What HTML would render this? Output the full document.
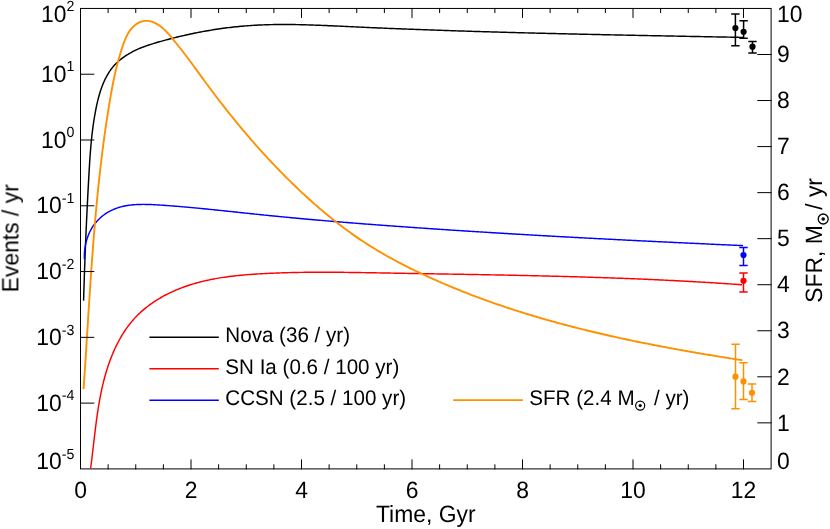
<!DOCTYPE html>
<html><head><meta charset="utf-8"><title>Event rates vs time</title>
<style>html,body{margin:0;padding:0;background:#fff;}body{width:830px;height:529px;overflow:hidden;font-family:"Liberation Sans",sans-serif;}svg{position:absolute;left:0;top:0;}</style>
</head><body>
<svg width="830" height="529" viewBox="0 0 830 529" style="display:block">
<rect width="830" height="529" fill="#fff"/>
<g font-family="'Liberation Sans', sans-serif" fill="#000" style="will-change:transform;text-rendering:geometricPrecision">
<path d="M83.59 300.61 L83.64 298.85 L83.69 297.09 L83.74 295.33 L83.79 293.58 L83.84 291.82 L83.90 290.06 L83.95 288.30 L84.01 286.54 L84.06 284.78 L84.12 283.02 L84.17 281.26 L84.23 279.50 L84.29 277.74 L84.35 275.98 L84.41 274.22 L84.47 272.46 L84.53 270.70 L84.59 268.94 L84.65 267.18 L84.72 265.42 L84.78 263.67 L84.85 261.91 L84.91 260.15 L84.98 258.39 L85.04 256.63 L85.11 254.87 L85.18 253.11 L85.25 251.35 L85.32 249.59 L85.39 247.83 L85.46 246.07 L85.53 244.31 L85.60 242.56 L85.68 240.80 L85.75 239.04 L85.83 237.28 L85.90 235.52 L85.98 233.76 L86.06 232.01 L86.13 230.25 L86.21 228.49 L86.29 226.73 L86.37 224.97 L86.45 223.22 L86.53 221.46 L86.61 219.70 L86.69 217.95 L86.78 216.19 L86.86 214.43 L86.94 212.68 L87.03 210.92 L87.12 209.16 L87.20 207.41 L87.29 205.65 L87.38 203.90 L87.46 202.14 L87.55 200.39 L87.64 198.63 L87.73 196.88 L87.82 195.12 L87.91 193.37 L88.01 191.62 L88.10 189.86 L88.19 188.11 L88.29 186.36 L88.38 184.60 L88.48 182.85 L88.57 181.10 L88.67 179.35 L88.77 177.59 L88.86 175.84 L88.96 174.09 L89.06 172.34 L89.16 170.59 L89.26 168.84 L89.37 167.09 L89.47 165.34 L89.58 163.59 L89.69 161.84 L89.81 160.09 L89.92 158.34 L90.04 156.59 L90.17 154.84 L90.30 153.09 L90.43 151.34 L90.57 149.59 L90.71 147.84 L90.86 146.09 L91.02 144.34 L91.18 142.59 L91.35 140.84 L91.53 139.09 L91.71 137.34 L91.90 135.58 L92.10 133.83 L92.30 132.08 L92.52 130.33 L92.74 128.57 L92.97 126.82 L93.22 125.06 L93.47 123.31 L93.73 121.55 L94.00 119.79 L94.29 118.04 L94.58 116.28 L94.89 114.52 L95.21 112.76 L95.54 111.00 L95.88 109.24 L96.23 107.48 L96.60 105.72 L96.99 103.96 L97.39 102.20 L97.81 100.45 L98.24 98.71 L98.70 96.98 L99.18 95.25 L99.68 93.54 L100.20 91.83 L100.74 90.14 L101.31 88.47 L101.91 86.81 L102.54 85.17 L103.19 83.55 L103.87 81.95 L104.59 80.37 L105.33 78.81 L106.11 77.28 L106.93 75.78 L107.77 74.30 L108.66 72.85 L109.58 71.43 L110.54 70.04 L111.54 68.69 L112.58 67.37 L113.66 66.09 L114.79 64.84 L115.95 63.63 L117.16 62.45 L118.40 61.31 L119.68 60.20 L121.00 59.13 L122.34 58.09 L123.73 57.09 L125.14 56.11 L126.58 55.17 L128.05 54.26 L129.54 53.38 L131.06 52.53 L132.60 51.70 L134.17 50.91 L135.75 50.15 L137.35 49.41 L138.97 48.70 L140.61 48.02 L142.26 47.36 L143.93 46.73 L145.60 46.11 L147.29 45.52 L148.99 44.95 L150.69 44.39 L152.40 43.85 L154.12 43.33 L155.84 42.81 L157.57 42.31 L159.29 41.81 L161.02 41.33 L162.75 40.84 L164.48 40.37 L166.20 39.90 L167.93 39.44 L169.66 38.98 L171.38 38.54 L173.11 38.09 L174.84 37.66 L176.57 37.23 L178.30 36.81 L180.02 36.40 L181.75 35.99 L183.48 35.59 L185.21 35.19 L186.94 34.81 L188.67 34.43 L190.40 34.05 L192.13 33.69 L193.86 33.33 L195.59 32.97 L197.32 32.63 L199.05 32.29 L200.78 31.96 L202.51 31.63 L204.24 31.32 L205.98 31.01 L207.71 30.70 L209.44 30.41 L211.18 30.12 L212.91 29.84 L214.64 29.56 L216.38 29.30 L218.11 29.04 L219.85 28.78 L221.58 28.54 L223.32 28.30 L225.06 28.07 L226.79 27.84 L228.53 27.63 L230.27 27.42 L232.01 27.22 L233.75 27.02 L235.49 26.84 L237.23 26.66 L238.97 26.48 L240.71 26.32 L242.45 26.16 L244.20 26.01 L245.94 25.87 L247.68 25.74 L249.43 25.61 L251.17 25.49 L252.92 25.38 L254.66 25.28 L256.41 25.18 L258.16 25.09 L259.91 25.01 L261.66 24.93 L263.40 24.86 L265.15 24.80 L266.90 24.74 L268.66 24.69 L270.41 24.65 L272.16 24.61 L273.91 24.58 L275.66 24.55 L277.42 24.53 L279.17 24.51 L280.93 24.50 L282.68 24.49 L284.44 24.49 L286.19 24.50 L287.95 24.51 L289.70 24.52 L291.46 24.54 L293.22 24.56 L294.97 24.59 L296.73 24.62 L298.49 24.65 L300.25 24.69 L302.00 24.73 L303.76 24.77 L305.52 24.82 L307.28 24.87 L309.04 24.92 L310.80 24.98 L312.56 25.04 L314.32 25.10 L316.08 25.17 L317.84 25.23 L319.60 25.30 L321.36 25.37 L323.12 25.44 L324.88 25.52 L326.64 25.59 L328.41 25.67 L330.17 25.75 L331.93 25.83 L333.69 25.91 L335.45 25.99 L337.21 26.07 L338.97 26.15 L340.74 26.24 L342.50 26.32 L344.26 26.40 L346.02 26.49 L347.78 26.57 L349.54 26.65 L351.30 26.73 L353.06 26.81 L354.83 26.90 L356.59 26.98 L358.35 27.06 L360.11 27.14 L361.87 27.22 L363.63 27.29 L365.39 27.37 L367.15 27.45 L368.91 27.53 L370.67 27.60 L372.43 27.68 L374.19 27.76 L375.95 27.83 L377.71 27.91 L379.47 27.98 L381.23 28.06 L382.99 28.13 L384.75 28.20 L386.51 28.28 L388.27 28.35 L390.03 28.42 L391.79 28.49 L393.55 28.56 L395.31 28.63 L397.07 28.70 L398.83 28.77 L400.59 28.84 L402.35 28.91 L404.11 28.98 L405.87 29.05 L407.63 29.12 L409.39 29.18 L411.15 29.25 L412.91 29.32 L414.66 29.38 L416.42 29.45 L418.18 29.51 L419.94 29.58 L421.70 29.64 L423.46 29.71 L425.22 29.77 L426.98 29.84 L428.74 29.90 L430.49 29.96 L432.25 30.02 L434.01 30.09 L435.77 30.15 L437.53 30.21 L439.29 30.27 L441.05 30.33 L442.80 30.39 L444.56 30.45 L446.32 30.51 L448.08 30.57 L449.84 30.63 L451.60 30.68 L453.35 30.74 L455.11 30.80 L456.87 30.86 L458.63 30.91 L460.39 30.97 L462.14 31.03 L463.90 31.08 L465.66 31.14 L467.42 31.19 L469.18 31.25 L470.93 31.30 L472.69 31.36 L474.45 31.41 L476.21 31.47 L477.97 31.52 L479.72 31.57 L481.48 31.62 L483.24 31.68 L485.00 31.73 L486.75 31.78 L488.51 31.83 L490.27 31.88 L492.03 31.93 L493.79 31.98 L495.54 32.04 L497.30 32.09 L499.06 32.14 L500.82 32.18 L502.57 32.23 L504.33 32.28 L506.09 32.33 L507.85 32.38 L509.60 32.43 L511.36 32.48 L513.12 32.52 L514.88 32.57 L516.63 32.62 L518.39 32.67 L520.15 32.71 L521.91 32.76 L523.66 32.80 L525.42 32.85 L527.18 32.90 L528.94 32.94 L530.69 32.99 L532.45 33.03 L534.21 33.08 L535.97 33.12 L537.72 33.16 L539.48 33.21 L541.24 33.25 L543.00 33.30 L544.75 33.34 L546.51 33.38 L548.27 33.42 L550.03 33.47 L551.78 33.51 L553.54 33.55 L555.30 33.59 L557.06 33.64 L558.81 33.68 L560.57 33.72 L562.33 33.76 L564.09 33.80 L565.84 33.84 L567.60 33.88 L569.36 33.92 L571.12 33.96 L572.87 34.00 L574.63 34.04 L576.39 34.08 L578.15 34.12 L579.90 34.16 L581.66 34.20 L583.42 34.24 L585.18 34.28 L586.93 34.32 L588.69 34.36 L590.45 34.40 L592.21 34.43 L593.97 34.47 L595.72 34.51 L597.48 34.55 L599.24 34.59 L601.00 34.62 L602.76 34.66 L604.51 34.70 L606.27 34.74 L608.03 34.77 L609.79 34.81 L611.55 34.85 L613.30 34.88 L615.06 34.92 L616.82 34.96 L618.58 34.99 L620.34 35.03 L622.09 35.07 L623.85 35.10 L625.61 35.14 L627.37 35.17 L629.13 35.21 L630.89 35.24 L632.64 35.28 L634.40 35.31 L636.16 35.35 L637.92 35.39 L639.68 35.42 L641.44 35.46 L643.20 35.49 L644.96 35.53 L646.71 35.56 L648.47 35.60 L650.23 35.63 L651.99 35.66 L653.75 35.70 L655.51 35.73 L657.27 35.77 L659.03 35.80 L660.79 35.84 L662.55 35.87 L664.30 35.90 L666.06 35.94 L667.82 35.97 L669.58 36.01 L671.34 36.04 L673.10 36.07 L674.86 36.11 L676.62 36.14 L678.38 36.18 L680.14 36.21 L681.90 36.24 L683.66 36.28 L685.42 36.31 L687.18 36.35 L688.94 36.38 L690.70 36.41 L692.46 36.45 L694.22 36.48 L695.98 36.51 L697.74 36.55 L699.50 36.58 L701.26 36.61 L703.02 36.65 L704.78 36.68 L706.54 36.72 L708.30 36.75 L710.06 36.78 L711.83 36.82 L713.59 36.85 L715.35 36.88 L717.11 36.92 L718.87 36.95 L720.63 36.99 L722.39 37.02 L724.15 37.05 L725.91 37.09 L727.68 37.12 L729.44 37.15 L731.20 37.19 L732.96 37.22 L734.72 37.26 L736.48 37.29 L738.25 37.33 L740.01 37.36 L741.77 37.39 L743.53 37.43" fill="none" stroke="#000000" stroke-width="1.45" stroke-linejoin="round"/>
<path d="M90.61 468.22 L90.82 466.73 L91.02 465.24 L91.21 463.74 L91.41 462.24 L91.60 460.73 L91.79 459.22 L91.97 457.71 L92.16 456.19 L92.34 454.67 L92.52 453.15 L92.70 451.63 L92.88 450.10 L93.06 448.57 L93.24 447.03 L93.42 445.50 L93.59 443.96 L93.77 442.42 L93.95 440.88 L94.13 439.34 L94.31 437.79 L94.49 436.24 L94.68 434.69 L94.86 433.14 L95.05 431.59 L95.24 430.04 L95.43 428.49 L95.62 426.93 L95.82 425.38 L96.02 423.82 L96.22 422.27 L96.43 420.71 L96.64 419.15 L96.85 417.60 L97.07 416.04 L97.30 414.48 L97.52 412.93 L97.76 411.37 L98.00 409.81 L98.24 408.26 L98.49 406.70 L98.74 405.15 L99.01 403.60 L99.27 402.05 L99.55 400.50 L99.83 398.95 L100.12 397.40 L100.42 395.86 L100.72 394.31 L101.03 392.77 L101.35 391.23 L101.68 389.69 L102.02 388.16 L102.36 386.63 L102.72 385.10 L103.08 383.57 L103.45 382.04 L103.84 380.52 L104.23 379.00 L104.63 377.49 L105.05 375.98 L105.47 374.47 L105.90 372.96 L106.35 371.46 L106.81 369.96 L107.28 368.47 L107.76 366.98 L108.25 365.49 L108.76 364.01 L109.28 362.54 L109.81 361.06 L110.35 359.60 L110.91 358.13 L111.48 356.68 L112.06 355.22 L112.66 353.78 L113.28 352.34 L113.90 350.90 L114.54 349.48 L115.20 348.06 L115.87 346.65 L116.55 345.25 L117.25 343.85 L117.96 342.47 L118.69 341.09 L119.43 339.73 L120.19 338.37 L120.97 337.03 L121.76 335.70 L122.56 334.37 L123.38 333.06 L124.22 331.76 L125.07 330.48 L125.94 329.20 L126.83 327.95 L127.73 326.70 L128.65 325.47 L129.59 324.25 L130.54 323.05 L131.51 321.86 L132.50 320.69 L133.51 319.53 L134.53 318.39 L135.57 317.27 L136.63 316.16 L137.71 315.07 L138.80 314.00 L139.91 312.94 L141.04 311.90 L142.18 310.88 L143.34 309.88 L144.52 308.89 L145.71 307.91 L146.91 306.96 L148.13 306.02 L149.36 305.09 L150.61 304.19 L151.87 303.29 L153.14 302.42 L154.43 301.56 L155.72 300.71 L157.03 299.89 L158.36 299.07 L159.69 298.28 L161.03 297.50 L162.39 296.73 L163.75 295.98 L165.12 295.24 L166.51 294.52 L167.90 293.82 L169.30 293.13 L170.71 292.45 L172.13 291.79 L173.56 291.15 L174.99 290.52 L176.43 289.90 L177.88 289.30 L179.33 288.72 L180.79 288.14 L182.26 287.59 L183.73 287.04 L185.20 286.51 L186.68 286.00 L188.17 285.50 L189.66 285.01 L191.15 284.54 L192.64 284.08 L194.14 283.63 L195.65 283.20 L197.15 282.78 L198.66 282.37 L200.17 281.97 L201.68 281.59 L203.20 281.22 L204.72 280.86 L206.25 280.52 L207.77 280.18 L209.30 279.86 L210.83 279.54 L212.36 279.24 L213.90 278.95 L215.43 278.66 L216.97 278.39 L218.51 278.13 L220.06 277.87 L221.60 277.63 L223.15 277.39 L224.70 277.17 L226.25 276.95 L227.80 276.74 L229.35 276.54 L230.91 276.34 L232.46 276.16 L234.02 275.98 L235.58 275.80 L237.14 275.64 L238.70 275.48 L240.26 275.33 L241.82 275.18 L243.38 275.04 L244.94 274.90 L246.51 274.77 L248.07 274.65 L249.64 274.53 L251.20 274.41 L252.76 274.30 L254.33 274.20 L255.89 274.09 L257.46 273.99 L259.02 273.90 L260.59 273.81 L262.15 273.72 L263.72 273.63 L265.28 273.55 L266.84 273.47 L268.40 273.39 L269.97 273.32 L271.53 273.25 L273.09 273.18 L274.65 273.11 L276.22 273.05 L277.78 272.99 L279.34 272.93 L280.90 272.88 L282.46 272.82 L284.02 272.77 L285.58 272.73 L287.14 272.68 L288.70 272.64 L290.26 272.60 L291.82 272.56 L293.38 272.52 L294.94 272.49 L296.50 272.46 L298.05 272.43 L299.61 272.40 L301.17 272.38 L302.73 272.35 L304.29 272.33 L305.84 272.31 L307.40 272.30 L308.96 272.28 L310.52 272.27 L312.07 272.26 L313.63 272.25 L315.19 272.24 L316.74 272.23 L318.30 272.23 L319.86 272.22 L321.41 272.22 L322.97 272.22 L324.53 272.22 L326.08 272.23 L327.64 272.23 L329.20 272.24 L330.75 272.24 L332.31 272.25 L333.86 272.26 L335.42 272.27 L336.97 272.28 L338.53 272.30 L340.09 272.31 L341.64 272.32 L343.20 272.34 L344.75 272.36 L346.31 272.38 L347.86 272.39 L349.42 272.41 L350.97 272.43 L352.53 272.46 L354.08 272.48 L355.64 272.50 L357.19 272.52 L358.75 272.55 L360.30 272.57 L361.86 272.60 L363.41 272.62 L364.97 272.65 L366.52 272.67 L368.08 272.70 L369.64 272.73 L371.19 272.76 L372.75 272.78 L374.30 272.81 L375.86 272.84 L377.41 272.87 L378.97 272.89 L380.52 272.92 L382.08 272.95 L383.64 272.98 L385.19 273.01 L386.75 273.04 L388.30 273.06 L389.86 273.09 L391.42 273.12 L392.97 273.15 L394.53 273.17 L396.09 273.20 L397.64 273.23 L399.20 273.26 L400.76 273.28 L402.31 273.31 L403.87 273.34 L405.43 273.36 L406.99 273.39 L408.54 273.42 L410.10 273.44 L411.66 273.47 L413.21 273.50 L414.77 273.52 L416.33 273.55 L417.89 273.58 L419.45 273.60 L421.00 273.63 L422.56 273.65 L424.12 273.68 L425.68 273.71 L427.23 273.73 L428.79 273.76 L430.35 273.79 L431.91 273.81 L433.47 273.84 L435.03 273.86 L436.58 273.89 L438.14 273.92 L439.70 273.94 L441.26 273.97 L442.82 273.99 L444.38 274.02 L445.94 274.05 L447.50 274.07 L449.05 274.10 L450.61 274.13 L452.17 274.15 L453.73 274.18 L455.29 274.21 L456.85 274.23 L458.41 274.26 L459.97 274.29 L461.53 274.31 L463.09 274.34 L464.65 274.37 L466.21 274.39 L467.77 274.42 L469.32 274.45 L470.88 274.48 L472.44 274.50 L474.00 274.53 L475.56 274.56 L477.12 274.59 L478.68 274.62 L480.24 274.64 L481.80 274.67 L483.36 274.70 L484.92 274.73 L486.48 274.76 L488.04 274.79 L489.60 274.82 L491.16 274.85 L492.72 274.87 L494.28 274.90 L495.84 274.93 L497.40 274.96 L498.96 274.99 L500.52 275.02 L502.08 275.06 L503.64 275.09 L505.20 275.12 L506.76 275.15 L508.32 275.18 L509.88 275.21 L511.44 275.24 L513.00 275.27 L514.56 275.31 L516.12 275.34 L517.68 275.37 L519.24 275.40 L520.80 275.44 L522.36 275.47 L523.93 275.50 L525.49 275.54 L527.05 275.57 L528.61 275.61 L530.17 275.64 L531.73 275.68 L533.29 275.71 L534.85 275.75 L536.41 275.78 L537.97 275.82 L539.53 275.86 L541.09 275.89 L542.65 275.93 L544.21 275.97 L545.77 276.01 L547.33 276.04 L548.89 276.08 L550.45 276.12 L552.01 276.16 L553.57 276.20 L555.13 276.24 L556.69 276.28 L558.25 276.32 L559.81 276.36 L561.37 276.40 L562.93 276.44 L564.49 276.48 L566.05 276.53 L567.61 276.57 L569.17 276.61 L570.73 276.66 L572.29 276.70 L573.85 276.74 L575.41 276.79 L576.97 276.83 L578.53 276.88 L580.09 276.92 L581.65 276.97 L583.21 277.02 L584.77 277.06 L586.33 277.11 L587.89 277.16 L589.45 277.21 L591.01 277.26 L592.57 277.31 L594.13 277.36 L595.69 277.41 L597.25 277.46 L598.81 277.51 L600.37 277.56 L601.93 277.61 L603.49 277.66 L605.05 277.72 L606.60 277.77 L608.16 277.82 L609.72 277.88 L611.28 277.93 L612.84 277.99 L614.40 278.04 L615.96 278.10 L617.52 278.16 L619.08 278.21 L620.64 278.27 L622.19 278.33 L623.75 278.39 L625.31 278.45 L626.87 278.51 L628.43 278.57 L629.99 278.63 L631.55 278.69 L633.10 278.76 L634.66 278.82 L636.22 278.88 L637.78 278.95 L639.34 279.01 L640.89 279.08 L642.45 279.14 L644.01 279.21 L645.57 279.28 L647.13 279.34 L648.68 279.41 L650.24 279.48 L651.80 279.55 L653.36 279.62 L654.91 279.69 L656.47 279.76 L658.03 279.83 L659.59 279.91 L661.14 279.98 L662.70 280.05 L664.26 280.13 L665.81 280.20 L667.37 280.28 L668.93 280.36 L670.48 280.43 L672.04 280.51 L673.60 280.59 L675.15 280.67 L676.71 280.75 L678.26 280.83 L679.82 280.91 L681.38 280.99 L682.93 281.08 L684.49 281.16 L686.04 281.24 L687.60 281.33 L689.16 281.41 L690.71 281.50 L692.27 281.59 L693.82 281.67 L695.38 281.76 L696.93 281.85 L698.49 281.94 L700.04 282.03 L701.60 282.12 L703.15 282.22 L704.70 282.31 L706.26 282.40 L707.81 282.50 L709.37 282.59 L710.92 282.69 L712.48 282.79 L714.03 282.88 L715.58 282.98 L717.14 283.08 L718.69 283.18 L720.24 283.28 L721.80 283.38 L723.35 283.49 L724.90 283.59 L726.46 283.69 L728.01 283.80 L729.56 283.90 L731.11 284.01 L732.67 284.12 L734.22 284.23 L735.77 284.33 L737.32 284.44 L738.87 284.56 L740.43 284.67 L741.98 284.78" fill="none" stroke="#ff0000" stroke-width="1.45" stroke-linejoin="round"/>
<path d="M84.42 259.28 L84.38 257.88 L84.37 256.48 L84.39 255.08 L84.44 253.67 L84.53 252.26 L84.64 250.84 L84.79 249.43 L84.98 248.02 L85.20 246.62 L85.45 245.21 L85.73 243.82 L86.05 242.43 L86.41 241.05 L86.79 239.68 L87.21 238.32 L87.67 236.98 L88.16 235.65 L88.68 234.34 L89.24 233.05 L89.83 231.77 L90.46 230.52 L91.12 229.29 L91.82 228.08 L92.56 226.90 L93.32 225.74 L94.13 224.62 L94.97 223.52 L95.84 222.45 L96.74 221.41 L97.68 220.39 L98.64 219.41 L99.63 218.46 L100.65 217.54 L101.69 216.65 L102.75 215.79 L103.84 214.97 L104.95 214.18 L106.09 213.42 L107.24 212.69 L108.40 211.99 L109.59 211.33 L110.79 210.71 L112.00 210.12 L113.23 209.56 L114.47 209.04 L115.72 208.55 L116.99 208.10 L118.26 207.67 L119.54 207.28 L120.84 206.92 L122.14 206.58 L123.46 206.28 L124.78 206.00 L126.11 205.74 L127.45 205.51 L128.80 205.31 L130.16 205.13 L131.52 204.97 L132.89 204.83 L134.27 204.72 L135.65 204.62 L137.04 204.54 L138.43 204.48 L139.83 204.43 L141.23 204.41 L142.63 204.39 L144.04 204.39 L145.45 204.41 L146.87 204.43 L148.28 204.47 L149.70 204.51 L151.12 204.57 L152.54 204.63 L153.97 204.70 L155.39 204.78 L156.81 204.86 L158.23 204.95 L159.65 205.04 L161.07 205.14 L162.49 205.23 L163.91 205.33 L165.32 205.43 L166.73 205.53 L168.15 205.64 L169.56 205.74 L170.96 205.85 L172.37 205.96 L173.78 206.07 L175.18 206.18 L176.58 206.29 L177.99 206.40 L179.39 206.52 L180.78 206.64 L182.18 206.76 L183.58 206.88 L184.97 207.00 L186.37 207.12 L187.76 207.24 L189.15 207.37 L190.54 207.49 L191.93 207.62 L193.32 207.75 L194.71 207.88 L196.09 208.01 L197.48 208.14 L198.86 208.27 L200.25 208.40 L201.63 208.54 L203.01 208.67 L204.39 208.81 L205.77 208.95 L207.15 209.08 L208.53 209.22 L209.91 209.36 L211.28 209.50 L212.66 209.64 L214.04 209.78 L215.41 209.92 L216.79 210.06 L218.16 210.21 L219.54 210.35 L220.91 210.49 L222.28 210.64 L223.65 210.78 L225.03 210.93 L226.40 211.07 L227.77 211.21 L229.14 211.36 L230.51 211.51 L231.88 211.65 L233.25 211.80 L234.62 211.94 L235.99 212.09 L237.36 212.23 L238.73 212.38 L240.10 212.53 L241.47 212.67 L242.84 212.82 L244.21 212.96 L245.58 213.11 L246.95 213.25 L248.32 213.40 L249.69 213.54 L251.06 213.69 L252.43 213.83 L253.80 213.98 L255.17 214.12 L256.54 214.26 L257.91 214.40 L259.28 214.55 L260.66 214.69 L262.03 214.83 L263.40 214.97 L264.77 215.11 L266.15 215.25 L267.52 215.39 L268.89 215.52 L270.27 215.66 L271.64 215.80 L273.02 215.93 L274.39 216.07 L275.77 216.21 L277.14 216.34 L278.52 216.47 L279.90 216.61 L281.27 216.74 L282.65 216.87 L284.03 217.01 L285.41 217.14 L286.78 217.27 L288.16 217.40 L289.54 217.53 L290.92 217.66 L292.30 217.79 L293.68 217.92 L295.06 218.05 L296.44 218.18 L297.82 218.30 L299.20 218.43 L300.58 218.56 L301.96 218.68 L303.34 218.81 L304.72 218.93 L306.10 219.06 L307.49 219.18 L308.87 219.30 L310.25 219.43 L311.63 219.55 L313.02 219.67 L314.40 219.79 L315.78 219.92 L317.17 220.04 L318.55 220.16 L319.93 220.28 L321.32 220.40 L322.70 220.52 L324.09 220.64 L325.47 220.75 L326.86 220.87 L328.24 220.99 L329.63 221.11 L331.01 221.22 L332.40 221.34 L333.78 221.45 L335.17 221.57 L336.55 221.69 L337.94 221.80 L339.33 221.91 L340.71 222.03 L342.10 222.14 L343.49 222.25 L344.87 222.37 L346.26 222.48 L347.65 222.59 L349.03 222.70 L350.42 222.81 L351.81 222.93 L353.20 223.04 L354.58 223.15 L355.97 223.26 L357.36 223.36 L358.75 223.47 L360.14 223.58 L361.52 223.69 L362.91 223.80 L364.30 223.91 L365.69 224.01 L367.08 224.12 L368.47 224.23 L369.86 224.33 L371.24 224.44 L372.63 224.54 L374.02 224.65 L375.41 224.75 L376.80 224.86 L378.19 224.96 L379.58 225.07 L380.97 225.17 L382.36 225.27 L383.74 225.38 L385.13 225.48 L386.52 225.58 L387.91 225.69 L389.30 225.79 L390.69 225.89 L392.08 225.99 L393.47 226.09 L394.86 226.19 L396.25 226.29 L397.64 226.39 L399.03 226.49 L400.41 226.59 L401.80 226.69 L403.19 226.79 L404.58 226.89 L405.97 226.99 L407.36 227.09 L408.75 227.18 L410.14 227.28 L411.53 227.38 L412.92 227.48 L414.31 227.57 L415.69 227.67 L417.08 227.77 L418.47 227.86 L419.86 227.96 L421.25 228.06 L422.64 228.15 L424.03 228.25 L425.41 228.34 L426.80 228.44 L428.19 228.53 L429.58 228.63 L430.97 228.72 L432.35 228.81 L433.74 228.91 L435.13 229.00 L436.52 229.09 L437.91 229.19 L439.29 229.28 L440.68 229.37 L442.07 229.47 L443.46 229.56 L444.84 229.65 L446.23 229.74 L447.62 229.83 L449.01 229.93 L450.39 230.02 L451.78 230.11 L453.17 230.20 L454.55 230.29 L455.94 230.38 L457.33 230.47 L458.72 230.56 L460.10 230.65 L461.49 230.74 L462.88 230.83 L464.26 230.92 L465.65 231.01 L467.04 231.09 L468.42 231.18 L469.81 231.27 L471.20 231.36 L472.58 231.45 L473.97 231.53 L475.36 231.62 L476.74 231.71 L478.13 231.80 L479.51 231.88 L480.90 231.97 L482.29 232.06 L483.67 232.14 L485.06 232.23 L486.45 232.31 L487.83 232.40 L489.22 232.49 L490.60 232.57 L491.99 232.66 L493.38 232.74 L494.76 232.83 L496.15 232.91 L497.53 232.99 L498.92 233.08 L500.30 233.16 L501.69 233.25 L503.08 233.33 L504.46 233.41 L505.85 233.50 L507.23 233.58 L508.62 233.66 L510.00 233.75 L511.39 233.83 L512.78 233.91 L514.16 233.99 L515.55 234.07 L516.93 234.16 L518.32 234.24 L519.70 234.32 L521.09 234.40 L522.47 234.48 L523.86 234.56 L525.24 234.64 L526.63 234.72 L528.01 234.80 L529.40 234.88 L530.79 234.96 L532.17 235.04 L533.56 235.12 L534.94 235.20 L536.33 235.28 L537.71 235.36 L539.10 235.44 L540.48 235.52 L541.87 235.60 L543.25 235.68 L544.64 235.75 L546.02 235.83 L547.41 235.91 L548.79 235.99 L550.18 236.07 L551.56 236.14 L552.95 236.22 L554.34 236.30 L555.72 236.37 L557.11 236.45 L558.49 236.53 L559.88 236.60 L561.26 236.68 L562.65 236.76 L564.03 236.83 L565.42 236.91 L566.80 236.98 L568.19 237.06 L569.57 237.14 L570.96 237.21 L572.34 237.29 L573.73 237.36 L575.11 237.44 L576.50 237.51 L577.88 237.59 L579.27 237.66 L580.66 237.73 L582.04 237.81 L583.43 237.88 L584.81 237.96 L586.20 238.03 L587.58 238.10 L588.97 238.18 L590.35 238.25 L591.74 238.32 L593.12 238.40 L594.51 238.47 L595.90 238.54 L597.28 238.61 L598.67 238.69 L600.05 238.76 L601.44 238.83 L602.82 238.90 L604.21 238.97 L605.60 239.05 L606.98 239.12 L608.37 239.19 L609.75 239.26 L611.14 239.33 L612.52 239.40 L613.91 239.47 L615.30 239.54 L616.68 239.61 L618.07 239.69 L619.45 239.76 L620.84 239.83 L622.23 239.90 L623.61 239.97 L625.00 240.04 L626.39 240.11 L627.77 240.18 L629.16 240.24 L630.54 240.31 L631.93 240.38 L633.32 240.45 L634.70 240.52 L636.09 240.59 L637.48 240.66 L638.86 240.73 L640.25 240.80 L641.64 240.87 L643.02 240.93 L644.41 241.00 L645.80 241.07 L647.18 241.14 L648.57 241.21 L649.96 241.27 L651.34 241.34 L652.73 241.41 L654.12 241.48 L655.51 241.54 L656.89 241.61 L658.28 241.68 L659.67 241.75 L661.06 241.81 L662.44 241.88 L663.83 241.95 L665.22 242.01 L666.61 242.08 L667.99 242.15 L669.38 242.21 L670.77 242.28 L672.16 242.34 L673.54 242.41 L674.93 242.48 L676.32 242.54 L677.71 242.61 L679.10 242.67 L680.49 242.74 L681.87 242.80 L683.26 242.87 L684.65 242.94 L686.04 243.00 L687.43 243.07 L688.82 243.13 L690.21 243.20 L691.59 243.26 L692.98 243.33 L694.37 243.39 L695.76 243.45 L697.15 243.52 L698.54 243.58 L699.93 243.65 L701.32 243.71 L702.71 243.78 L704.10 243.84 L705.49 243.90 L706.88 243.97 L708.27 244.03 L709.66 244.10 L711.05 244.16 L712.44 244.22 L713.83 244.29 L715.22 244.35 L716.61 244.41 L718.00 244.48 L719.39 244.54 L720.78 244.60 L722.17 244.67 L723.56 244.73 L724.95 244.79 L726.34 244.85 L727.73 244.92 L729.12 244.98 L730.51 245.04 L731.90 245.10 L733.30 245.17 L734.69 245.23 L736.08 245.29 L737.47 245.35 L738.86 245.42 L740.25 245.48 L741.65 245.54 L743.04 245.60" fill="none" stroke="#0000ff" stroke-width="1.45" stroke-linejoin="round"/>
<path d="M83.54 389.00 L83.70 386.82 L83.85 384.64 L84.00 382.46 L84.15 380.28 L84.29 378.10 L84.44 375.92 L84.59 373.73 L84.73 371.55 L84.88 369.37 L85.02 367.18 L85.17 365.00 L85.31 362.81 L85.45 360.63 L85.59 358.44 L85.73 356.25 L85.87 354.07 L86.01 351.88 L86.15 349.69 L86.29 347.50 L86.43 345.31 L86.57 343.12 L86.71 340.94 L86.85 338.75 L86.99 336.56 L87.13 334.37 L87.26 332.17 L87.40 329.98 L87.54 327.79 L87.68 325.60 L87.82 323.41 L87.95 321.22 L88.09 319.02 L88.23 316.83 L88.37 314.64 L88.51 312.45 L88.65 310.25 L88.79 308.06 L88.93 305.87 L89.07 303.67 L89.21 301.48 L89.36 299.29 L89.50 297.09 L89.64 294.90 L89.79 292.70 L89.93 290.51 L90.08 288.31 L90.22 286.12 L90.37 283.93 L90.52 281.73 L90.67 279.54 L90.81 277.34 L90.97 275.15 L91.12 272.95 L91.27 270.76 L91.42 268.56 L91.58 266.37 L91.74 264.18 L91.89 261.98 L92.05 259.79 L92.21 257.59 L92.37 255.40 L92.54 253.20 L92.70 251.01 L92.87 248.82 L93.03 246.62 L93.20 244.43 L93.37 242.24 L93.55 240.04 L93.72 237.85 L93.90 235.66 L94.07 233.47 L94.25 231.27 L94.43 229.08 L94.62 226.89 L94.80 224.70 L94.99 222.51 L95.18 220.32 L95.37 218.13 L95.56 215.94 L95.76 213.75 L95.95 211.56 L96.15 209.37 L96.36 207.18 L96.56 204.99 L96.77 202.80 L96.97 200.62 L97.19 198.43 L97.40 196.24 L97.62 194.05 L97.84 191.87 L98.06 189.68 L98.28 187.50 L98.51 185.31 L98.74 183.13 L98.97 180.95 L99.20 178.76 L99.44 176.58 L99.68 174.40 L99.93 172.22 L100.17 170.04 L100.42 167.86 L100.68 165.68 L100.93 163.50 L101.19 161.32 L101.45 159.14 L101.72 156.96 L101.99 154.79 L102.26 152.61 L102.53 150.44 L102.81 148.26 L103.09 146.09 L103.38 143.91 L103.67 141.74 L103.96 139.57 L104.25 137.40 L104.55 135.23 L104.86 133.06 L105.16 130.89 L105.47 128.72 L105.79 126.55 L106.11 124.39 L106.43 122.22 L106.75 120.06 L107.08 117.89 L107.42 115.73 L107.76 113.57 L108.10 111.41 L108.44 109.25 L108.79 107.09 L109.15 104.93 L109.51 102.77 L109.87 100.61 L110.24 98.46 L110.61 96.30 L110.99 94.15 L111.37 92.00 L111.76 89.84 L112.16 87.69 L112.57 85.54 L112.99 83.39 L113.42 81.24 L113.86 79.09 L114.32 76.94 L114.79 74.79 L115.27 72.64 L115.76 70.49 L116.27 68.34 L116.80 66.19 L117.35 64.04 L117.91 61.89 L118.49 59.74 L119.10 57.59 L119.72 55.43 L120.37 53.28 L121.03 51.13 L121.72 48.97 L122.44 46.82 L123.18 44.67 L123.95 42.53 L124.77 40.41 L125.64 38.33 L126.58 36.30 L127.59 34.33 L128.69 32.44 L129.87 30.63 L131.16 28.93 L132.57 27.34 L134.09 25.87 L135.75 24.54 L137.52 23.38 L139.39 22.40 L141.35 21.63 L143.36 21.10 L145.42 20.83 L147.50 20.84 L149.58 21.12 L151.65 21.65 L153.69 22.39 L155.68 23.32 L157.61 24.40 L159.46 25.61 L161.23 26.92 L162.92 28.33 L164.55 29.83 L166.13 31.39 L167.66 33.01 L169.15 34.67 L170.61 36.37 L172.05 38.08 L173.47 39.80 L174.88 41.53 L176.28 43.26 L177.67 44.99 L179.05 46.73 L180.42 48.47 L181.77 50.22 L183.12 51.97 L184.46 53.72 L185.80 55.47 L187.12 57.23 L188.44 58.99 L189.76 60.75 L191.07 62.52 L192.37 64.28 L193.67 66.05 L194.97 67.82 L196.26 69.58 L197.55 71.35 L198.84 73.12 L200.13 74.89 L201.42 76.65 L202.71 78.42 L204.00 80.19 L205.29 81.95 L206.59 83.72 L207.89 85.48 L209.19 87.24 L210.49 88.99 L211.80 90.75 L213.11 92.50 L214.43 94.25 L215.75 96.00 L217.08 97.74 L218.41 99.48 L219.74 101.22 L221.08 102.96 L222.42 104.69 L223.77 106.42 L225.13 108.14 L226.48 109.87 L227.84 111.59 L229.21 113.31 L230.58 115.02 L231.96 116.73 L233.34 118.44 L234.72 120.14 L236.11 121.85 L237.50 123.54 L238.90 125.24 L240.30 126.93 L241.71 128.61 L243.12 130.30 L244.54 131.98 L245.96 133.65 L247.39 135.33 L248.82 136.99 L250.25 138.66 L251.69 140.32 L253.14 141.97 L254.59 143.63 L256.04 145.28 L257.50 146.92 L258.97 148.56 L260.43 150.20 L261.91 151.83 L263.39 153.45 L264.87 155.08 L266.36 156.70 L267.85 158.31 L269.35 159.92 L270.85 161.52 L272.36 163.12 L273.87 164.72 L275.39 166.31 L276.91 167.89 L278.43 169.48 L279.97 171.05 L281.50 172.62 L283.04 174.19 L284.59 175.75 L286.14 177.31 L287.70 178.86 L289.26 180.40 L290.83 181.94 L292.40 183.48 L293.98 185.01 L295.56 186.53 L297.14 188.05 L298.74 189.57 L300.33 191.07 L301.93 192.58 L303.54 194.07 L305.15 195.56 L306.77 197.05 L308.39 198.53 L310.02 200.00 L311.66 201.47 L313.30 202.93 L314.94 204.38 L316.59 205.82 L318.25 207.26 L319.91 208.70 L321.58 210.12 L323.25 211.54 L324.93 212.95 L326.62 214.35 L328.31 215.74 L330.01 217.13 L331.72 218.51 L333.43 219.88 L335.15 221.24 L336.87 222.59 L338.60 223.94 L340.34 225.27 L342.08 226.60 L343.83 227.92 L345.59 229.22 L347.36 230.52 L349.13 231.81 L350.91 233.09 L352.69 234.36 L354.49 235.62 L356.29 236.87 L358.09 238.12 L359.91 239.35 L361.73 240.56 L363.56 241.77 L365.40 242.97 L367.24 244.16 L369.09 245.34 L370.95 246.50 L372.82 247.66 L374.69 248.80 L376.57 249.94 L378.46 251.06 L380.35 252.18 L382.25 253.29 L384.16 254.38 L386.07 255.47 L387.99 256.55 L389.91 257.61 L391.84 258.67 L393.77 259.72 L395.71 260.77 L397.66 261.80 L399.61 262.82 L401.56 263.84 L403.52 264.85 L405.48 265.85 L407.45 266.84 L409.42 267.83 L411.39 268.80 L413.37 269.77 L415.35 270.73 L417.33 271.69 L419.32 272.64 L421.31 273.58 L423.30 274.51 L425.30 275.44 L427.30 276.36 L429.30 277.27 L431.30 278.18 L433.30 279.08 L435.31 279.98 L437.32 280.87 L439.34 281.75 L441.35 282.63 L443.37 283.50 L445.39 284.36 L447.41 285.22 L449.43 286.07 L451.46 286.92 L453.49 287.75 L455.52 288.59 L457.55 289.42 L459.59 290.24 L461.62 291.05 L463.66 291.86 L465.70 292.67 L467.75 293.46 L469.79 294.26 L471.84 295.04 L473.89 295.82 L475.94 296.60 L477.99 297.37 L480.05 298.13 L482.11 298.89 L484.17 299.64 L486.23 300.39 L488.29 301.13 L490.36 301.87 L492.42 302.60 L494.49 303.32 L496.56 304.04 L498.64 304.76 L500.71 305.47 L502.79 306.17 L504.87 306.87 L506.95 307.57 L509.03 308.26 L511.11 308.94 L513.20 309.62 L515.28 310.29 L517.37 310.96 L519.46 311.62 L521.55 312.28 L523.65 312.94 L525.74 313.59 L527.84 314.23 L529.94 314.87 L532.03 315.51 L534.14 316.14 L536.24 316.76 L538.34 317.38 L540.45 318.00 L542.55 318.61 L544.66 319.22 L546.77 319.82 L548.88 320.42 L551.00 321.01 L553.11 321.60 L555.23 322.18 L557.34 322.77 L559.46 323.34 L561.58 323.91 L563.70 324.48 L565.82 325.04 L567.94 325.60 L570.07 326.16 L572.19 326.71 L574.32 327.26 L576.45 327.80 L578.58 328.34 L580.71 328.87 L582.84 329.41 L584.97 329.93 L587.10 330.46 L589.24 330.98 L591.37 331.49 L593.51 332.00 L595.65 332.51 L597.79 333.02 L599.92 333.52 L602.07 334.02 L604.21 334.51 L606.35 335.00 L608.49 335.49 L610.64 335.97 L612.78 336.45 L614.93 336.93 L617.07 337.40 L619.22 337.87 L621.37 338.34 L623.52 338.80 L625.67 339.26 L627.82 339.72 L629.97 340.17 L632.12 340.62 L634.27 341.07 L636.42 341.51 L638.58 341.95 L640.73 342.39 L642.89 342.83 L645.04 343.26 L647.20 343.69 L649.35 344.12 L651.51 344.54 L653.67 344.96 L655.83 345.38 L657.99 345.80 L660.14 346.21 L662.30 346.62 L664.46 347.03 L666.62 347.43 L668.79 347.84 L670.95 348.24 L673.11 348.63 L675.27 349.03 L677.43 349.42 L679.59 349.81 L681.76 350.20 L683.92 350.59 L686.08 350.97 L688.25 351.35 L690.41 351.73 L692.57 352.11 L694.74 352.48 L696.90 352.86 L699.07 353.23 L701.23 353.60 L703.40 353.96 L705.56 354.33 L707.72 354.69 L709.89 355.05 L712.05 355.41 L714.22 355.77 L716.38 356.12 L718.55 356.48 L720.71 356.83 L722.88 357.18 L725.04 357.53 L727.21 357.88 L729.37 358.22 L731.54 358.57 L733.70 358.91 L735.86 359.25 L738.03 359.59 L740.19 359.93 L742.35 360.27" fill="none" stroke="#ff9000" stroke-width="1.9" stroke-linejoin="round"/>
<g stroke="#000" stroke-width="1.0" fill="none" stroke-linecap="square">
<rect x="80.5" y="8.45" width="690.6" height="460.45"/>
<path d="M108.12 468.9 v-4.1 M108.12 8.45 v4.1"/>
<path d="M135.75 468.9 v-4.1 M135.75 8.45 v4.1"/>
<path d="M163.38 468.9 v-4.1 M163.38 8.45 v4.1"/>
<path d="M191.00 468.9 v-9.0 M191.00 8.45 v9.0"/>
<path d="M218.62 468.9 v-4.1 M218.62 8.45 v4.1"/>
<path d="M246.25 468.9 v-4.1 M246.25 8.45 v4.1"/>
<path d="M273.88 468.9 v-4.1 M273.88 8.45 v4.1"/>
<path d="M301.50 468.9 v-9.0 M301.50 8.45 v9.0"/>
<path d="M329.12 468.9 v-4.1 M329.12 8.45 v4.1"/>
<path d="M356.75 468.9 v-4.1 M356.75 8.45 v4.1"/>
<path d="M384.38 468.9 v-4.1 M384.38 8.45 v4.1"/>
<path d="M412.00 468.9 v-9.0 M412.00 8.45 v9.0"/>
<path d="M439.62 468.9 v-4.1 M439.62 8.45 v4.1"/>
<path d="M467.25 468.9 v-4.1 M467.25 8.45 v4.1"/>
<path d="M494.88 468.9 v-4.1 M494.88 8.45 v4.1"/>
<path d="M522.50 468.9 v-9.0 M522.50 8.45 v9.0"/>
<path d="M550.12 468.9 v-4.1 M550.12 8.45 v4.1"/>
<path d="M577.75 468.9 v-4.1 M577.75 8.45 v4.1"/>
<path d="M605.38 468.9 v-4.1 M605.38 8.45 v4.1"/>
<path d="M633.00 468.9 v-9.0 M633.00 8.45 v9.0"/>
<path d="M660.62 468.9 v-4.1 M660.62 8.45 v4.1"/>
<path d="M688.25 468.9 v-4.1 M688.25 8.45 v4.1"/>
<path d="M715.88 468.9 v-4.1 M715.88 8.45 v4.1"/>
<path d="M743.50 468.9 v-9.0 M743.50 8.45 v9.0"/>
<path d="M80.5 403.12 h13.3"/>
<path d="M80.5 337.34 h13.3"/>
<path d="M80.5 271.56 h13.3"/>
<path d="M80.5 205.79 h13.3"/>
<path d="M80.5 140.01 h13.3"/>
<path d="M80.5 74.23 h13.3"/>
<path d="M771.1 422.85 h-13.3"/>
<path d="M771.1 376.81 h-13.3"/>
<path d="M771.1 330.76 h-13.3"/>
<path d="M771.1 284.72 h-13.3"/>
<path d="M771.1 238.67 h-13.3"/>
<path d="M771.1 192.63 h-13.3"/>
<path d="M771.1 146.58 h-13.3"/>
<path d="M771.1 100.54 h-13.3"/>
<path d="M771.1 54.49 h-13.3"/>
</g>
<text transform="translate(80.50 497.60) scale(1 1.03)" font-size="22.9" text-anchor="middle">0</text>
<text transform="translate(191.00 497.60) scale(1 1.03)" font-size="22.9" text-anchor="middle">2</text>
<text transform="translate(301.50 497.60) scale(1 1.03)" font-size="22.9" text-anchor="middle">4</text>
<text transform="translate(412.00 497.60) scale(1 1.03)" font-size="22.9" text-anchor="middle">6</text>
<text transform="translate(522.50 497.60) scale(1 1.03)" font-size="22.9" text-anchor="middle">8</text>
<text transform="translate(633.00 497.60) scale(1 1.03)" font-size="22.9" text-anchor="middle">10</text>
<text transform="translate(743.50 497.60) scale(1 1.03)" font-size="22.9" text-anchor="middle">12</text>
<text transform="translate(425.80 522.10) scale(1 1.03)" font-size="22.9" text-anchor="middle">Time, Gyr</text>
<text transform="translate(74.30 21.60) scale(1 1.03)" font-size="22.9" text-anchor="end">10<tspan font-size="14.2" dy="-10.2">2</tspan></text>
<text transform="translate(74.30 81.93) scale(1 1.03)" font-size="22.9" text-anchor="end">10<tspan font-size="14.2" dy="-10.2">1</tspan></text>
<text transform="translate(74.30 147.71) scale(1 1.03)" font-size="22.9" text-anchor="end">10<tspan font-size="14.2" dy="-10.2">0</tspan></text>
<text transform="translate(74.30 213.49) scale(1 1.03)" font-size="22.9" text-anchor="end">10<tspan font-size="14.2" dy="-10.2">-1</tspan></text>
<text transform="translate(74.30 279.26) scale(1 1.03)" font-size="22.9" text-anchor="end">10<tspan font-size="14.2" dy="-10.2">-2</tspan></text>
<text transform="translate(74.30 345.04) scale(1 1.03)" font-size="22.9" text-anchor="end">10<tspan font-size="14.2" dy="-10.2">-3</tspan></text>
<text transform="translate(74.30 410.82) scale(1 1.03)" font-size="22.9" text-anchor="end">10<tspan font-size="14.2" dy="-10.2">-4</tspan></text>
<text transform="translate(74.30 469.10) scale(1 1.03)" font-size="22.9" text-anchor="end">10<tspan font-size="14.2" dy="-10.2">-5</tspan></text>
<text transform="translate(777.00 469.40) scale(1 1.03)" font-size="22.9">0</text>
<text transform="translate(777.00 430.55) scale(1 1.03)" font-size="22.9">1</text>
<text transform="translate(777.00 384.51) scale(1 1.03)" font-size="22.9">2</text>
<text transform="translate(777.00 338.46) scale(1 1.03)" font-size="22.9">3</text>
<text transform="translate(777.00 292.42) scale(1 1.03)" font-size="22.9">4</text>
<text transform="translate(777.00 246.37) scale(1 1.03)" font-size="22.9">5</text>
<text transform="translate(777.00 200.33) scale(1 1.03)" font-size="22.9">6</text>
<text transform="translate(777.00 154.28) scale(1 1.03)" font-size="22.9">7</text>
<text transform="translate(777.00 108.24) scale(1 1.03)" font-size="22.9">8</text>
<text transform="translate(777.00 62.19) scale(1 1.03)" font-size="22.9">9</text>
<text transform="translate(777.00 21.90) scale(1 1.03)" font-size="22.9">10</text>
<text transform="translate(18.0 238.37) rotate(-90) scale(1 1.03)" font-size="22.9" text-anchor="middle">Events / yr</text>
<g transform="translate(821.5 302.8) rotate(-90)">
<text transform="translate(0.00 0.00) scale(1 1.03)" font-size="22.9">SFR, M</text>
<circle cx="83.8" cy="1.7" r="5.0" fill="none" stroke="#000" stroke-width="1.3"/><circle cx="83.8" cy="1.7" r="1.8" fill="#000"/>
<text transform="translate(93.00 0.00) scale(1 1.03)" font-size="22.9">/ yr</text>
</g>
<path d="M149.4 337.3 H218.8" stroke="#000" stroke-width="1.45" fill="none"/>
<path d="M149.4 368.7 H218.8" stroke="#ff0000" stroke-width="1.45" fill="none"/>
<path d="M149.4 400.2 H218.8" stroke="#0000ff" stroke-width="1.45" fill="none"/>
<path d="M453.2 400.2 H522.9" stroke="#ff9000" stroke-width="1.7" fill="none"/>
<text transform="translate(225.30 342.20) scale(1 1.03)" font-size="20.6">Nova (36 / yr)</text>
<text transform="translate(225.30 373.60) scale(1 1.03)" font-size="20.6">SN Ia (0.6 / 100 yr)</text>
<text transform="translate(225.30 404.80) scale(1 1.03)" font-size="20.6">CCSN (2.5 / 100 yr)</text>
<text transform="translate(529.30 404.60) scale(1 1.03)" font-size="20.6">SFR (2.4 M</text>
<circle cx="640.2" cy="405.6" r="4.55" fill="none" stroke="#000" stroke-width="1.2"/><circle cx="640.2" cy="405.6" r="1.6" fill="#000"/>
<text transform="translate(654.00 404.60) scale(1 1.03)" font-size="20.6">/ yr)</text>
<g stroke="#000" stroke-width="1.5" fill="none"><path d="M735.4 14.0 V45.7 M731.1999999999999 14.0 H739.6 M731.1999999999999 45.7 H739.6"/></g><circle cx="735.4" cy="28.1" r="3.1" fill="#000"/>
<g stroke="#000" stroke-width="1.5" fill="none"><path d="M743.6 20.8 V38.3 M739.4 20.8 H747.8000000000001 M739.4 38.3 H747.8000000000001"/></g><circle cx="743.6" cy="31.8" r="3.1" fill="#000"/>
<g stroke="#000" stroke-width="1.5" fill="none"><path d="M752.5 41.6 V53.0 M748.3 41.6 H756.7 M748.3 53.0 H756.7"/></g><circle cx="752.5" cy="46.7" r="3.1" fill="#000"/>
<g stroke="#0000ff" stroke-width="1.5" fill="none"><path d="M743.5 247.4 V265.5 M739.3 247.4 H747.7 M739.3 265.5 H747.7"/></g><circle cx="743.5" cy="255.0" r="3.1" fill="#0000ff"/>
<g stroke="#ff0000" stroke-width="1.5" fill="none"><path d="M743.5 273.1 V292.1 M739.3 273.1 H747.7 M739.3 292.1 H747.7"/></g><circle cx="743.5" cy="280.8" r="3.1" fill="#ff0000"/>
<g stroke="#ff9000" stroke-width="1.5" fill="none"><path d="M735.5 344.3 V408.8 M731.3 344.3 H739.7 M731.3 408.8 H739.7"/></g><circle cx="735.5" cy="376.7" r="3.1" fill="#ff9000"/>
<g stroke="#ff9000" stroke-width="1.5" fill="none"><path d="M743.5 362.7 V399.6 M739.3 362.7 H747.7 M739.3 399.6 H747.7"/></g><circle cx="743.5" cy="381.4" r="3.1" fill="#ff9000"/>
<g stroke="#ff9000" stroke-width="1.5" fill="none"><path d="M752.0 384.0 V401.5 M747.8 384.0 H756.2 M747.8 401.5 H756.2"/></g><circle cx="752.0" cy="392.8" r="3.1" fill="#ff9000"/>
</g></svg>
</body></html>
